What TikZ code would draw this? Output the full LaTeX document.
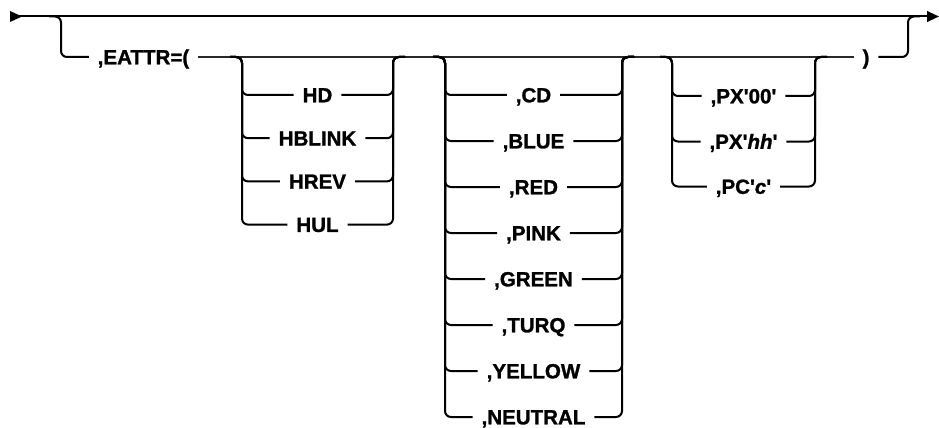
\documentclass[tikz,border=0pt]{standalone}
\usepackage{fontspec}
\setmainfont{Liberation Sans}[FakeBold=1.2]
\usetikzlibrary{arrows.meta}
\newcommand{\sq}{\textquotesingle}
\definecolor{throughink}{RGB}{40,40,40}
\begin{document}
\begin{tikzpicture}[x=0.75pt,y=-0.75pt, line width=1.5pt,
  lbl/.style={inner xsep=6pt, inner ysep=0pt, text height=11pt, text depth=0pt,
    font=\fontsize{15.4}{18}\selectfont\bfseries},
  rc/.style={rounded corners=4.5pt}]
\useasboundingbox (0,0) rectangle (939,428);
% main line
\coordinate (start) at (10,16.5);
\coordinate (tipstart) at (22,16.5);
\coordinate (finish) at (939,16.5);
\fill (10,11) -- (tipstart) -- (10,22) -- cycle;
\draw[-{Triangle[length=9pt,width=8pt]}] (start) -- (finish);
% optional branch
\node[lbl] (eattr) at (143.5,57) {,EATTR=(};
\node[lbl] (paren) at (866,57) {)};
\draw[rc] (49,16.5) -- (61,16.5) -- (61,57) -- (eattr.west);
\draw[rc] (paren.east) -- (908,57) -- (908,16.5) -- (920,16.5);
% through line of the optional branch
\draw[throughink] (eattr.east) -- (paren.west);
% group 1
\foreach \t/\y [count=\i] in {HD/95, HBLINK/138.2, HREV/181.4, HUL/224.6}{
  \node[lbl] (ga\i) at (317.5,\y) {\t};
  \draw[rc] (230,57) -- (242,57) -- (242,\y) -- (ga\i.west);
  \draw[rc] (ga\i.east) -- (393,\y) -- (393,57) -- (405,57);
}
% group 2
\foreach \t/\y [count=\i] in {{,CD}/95, {,BLUE}/141, {,RED}/187, {,PINK}/233,
    {,GREEN}/279, {,TURQ}/325, {,YELLOW}/371, {,NEUTRAL}/417}{
  \node[lbl] (gb\i) at (533.5,\y) {\t};
  \draw[rc] (433,57) -- (445,57) -- (445,\y) -- (gb\i.west);
  \draw[rc] (gb\i.east) -- (622,\y) -- (622,57) -- (634,57);
}
% group 3
\foreach \t/\y [count=\i] in {{,PX\sq 00\sq}/96, {,PX\sq\textit{hh}\sq}/141.5, {,PC\sq\textit{c}\sq}/186.5}{
  \node[lbl] (gc\i) at (743.5,\y) {\t};
  \draw[rc] (660,57) -- (672,57) -- (672,\y) -- (gc\i.west);
  \draw[rc] (gc\i.east) -- (815,\y) -- (815,57) -- (827,57);
}
\end{tikzpicture}
\end{document}
